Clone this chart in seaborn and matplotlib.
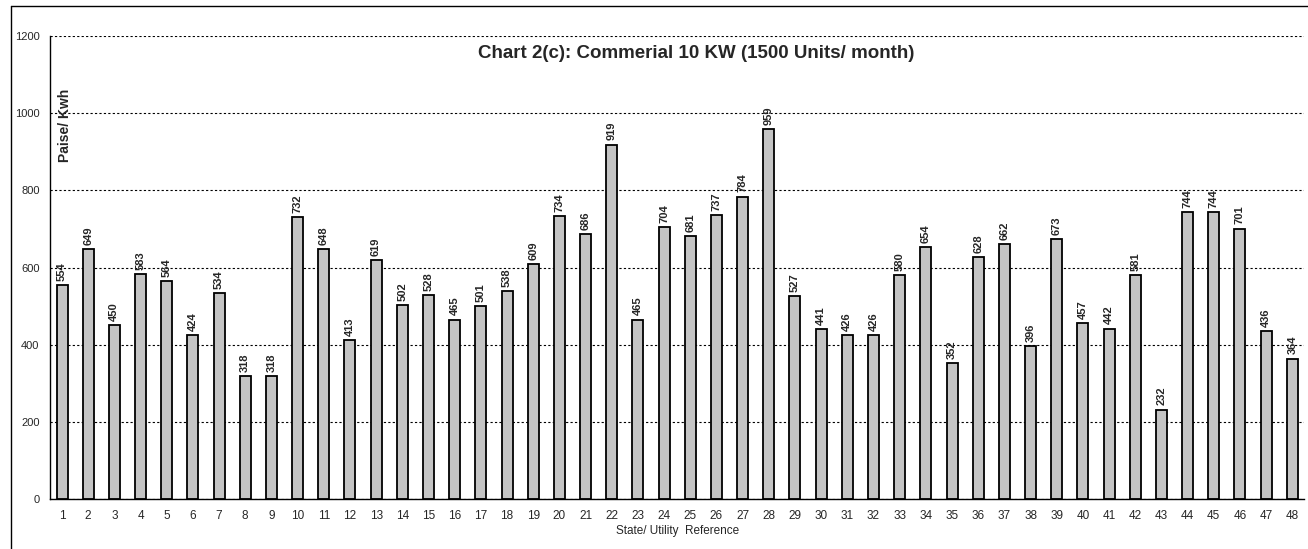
import numpy as np
import pandas as pd
import matplotlib
matplotlib.use("Agg")
import matplotlib.pyplot as plt
import seaborn as sns
from matplotlib.ticker import FixedLocator

# chart data
refs = [str(i) for i in range(1, 49)]
paise = [554, 649, 450, 583, 564, 424, 534, 318, 318, 732, 648, 413, 619, 502, 528, 465,
         501, 538, 609, 734, 686, 919, 465, 704, 681, 737, 784, 959, 527, 441, 426, 426,
         580, 654, 352, 628, 662, 396, 673, 457, 442, 581, 232, 744, 744, 701, 436, 364]
y_ticks = [0, 200, 400, 600, 800, 1000, 1200]

df = pd.DataFrame({"ref": refs, "paise": paise})

sns.set_style("white")
plt.rcParams['font.family'] = ['Liberation Sans', 'DejaVu Sans']

fig = plt.figure(figsize=(13.08, 5.49), dpi=100)
ax = fig.add_axes([0.0382, 0.0911, 0.959, 0.843])

sns.barplot(ax=ax, data=df, x="ref", y="paise", order=refs, color="#c4c4c4",
            saturation=1, width=0.42, edgecolor="black", linewidth=1.3)

# value labels on top of bars
for cont in ax.containers:
    ax.bar_label(cont, labels=[str(v) for v in paise], rotation=90, fontsize=8,
                 fontweight='bold', padding=3)

ax.set_ylim(0, 1200)
ax.set_xlim(-0.46, len(refs) - 0.54)
ax.set_yticks(y_ticks)
ax.yaxis.grid(True, color='black', linestyle=(0, (2, 2)), linewidth=0.8)
ax.set_axisbelow(True)

# small ticks between categories
ax.xaxis.set_minor_locator(FixedLocator(np.arange(-0.5, len(refs), 1.0)))
ax.tick_params(axis='x', which='major', length=0, labelsize=8.5, pad=8)
ax.tick_params(axis='x', which='minor', length=3, width=0.8, direction='out', color='black')
ax.tick_params(axis='y', length=4, width=0.8, direction='out', labelsize=8, color='black')

for s in ['top', 'right']:
    ax.spines[s].set_visible(False)
ax.spines['left'].set_color('black')
ax.spines['left'].set_linewidth(1.0)
ax.spines['bottom'].set_color('black')
ax.spines['bottom'].set_linewidth(1.0)

ax.set_xlabel("State/ Utility  Reference", fontsize=8.5, labelpad=2)
ax.set_ylabel("")
ax.text(0.012, 0.808, "Paise/ Kwh", rotation=90, fontsize=10, fontweight='bold',
        transform=ax.transAxes, ha='center', va='center')
ax.text(0.515, 0.962, "Chart 2(c): Commerial 10 KW (1500 Units/ month)", fontsize=13.5,
        fontweight='bold', transform=ax.transAxes, ha='center', va='center')

# outer frame (left and top edge of the scanned box)
fig.add_artist(plt.Line2D([0.0085, 0.0085], [0.0, 0.989], color='black', linewidth=1.0,
                          transform=fig.transFigure))
fig.add_artist(plt.Line2D([0.0085, 1.0], [0.989, 0.989], color='black', linewidth=1.0,
                          transform=fig.transFigure))

fig.savefig("out.png", dpi=100)
